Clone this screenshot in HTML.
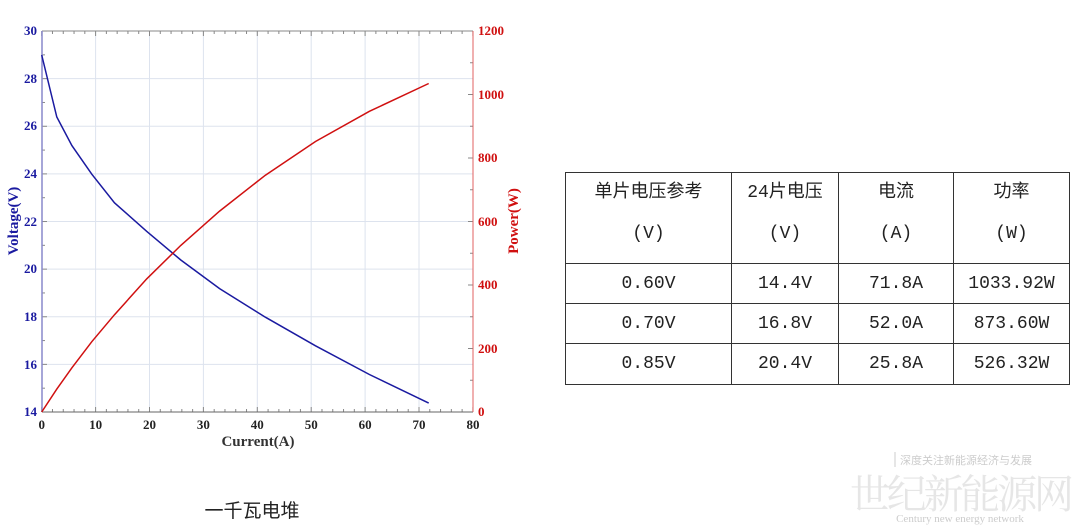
<!DOCTYPE html>
<html><head><meta charset="utf-8"><style>
body{margin:0;background:#fff;}
#w{position:relative;width:1080px;height:528px;overflow:hidden;background:#fff;font-family:"Liberation Sans","Noto Sans CJK SC",sans-serif;}
table{position:absolute;left:565px;top:172px;border-collapse:collapse;color:#222;font-family:"Liberation Mono","Noto Sans CJK SC",monospace;}
td{border:1.5px solid #333;text-align:center;font-size:18px;padding:0;}
tr.h td{vertical-align:top;line-height:41px;padding-top:0;}
</style></head><body><div id="w">
<svg width="1080" height="528" style="position:absolute;left:0;top:0" font-family="Liberation Serif,serif" font-weight="bold">
<g stroke="#dde3ee" stroke-width="1">
<line x1="95.6" y1="31" x2="95.6" y2="412"/><line x1="149.5" y1="31" x2="149.5" y2="412"/><line x1="203.4" y1="31" x2="203.4" y2="412"/><line x1="257.3" y1="31" x2="257.3" y2="412"/><line x1="311.2" y1="31" x2="311.2" y2="412"/><line x1="365.1" y1="31" x2="365.1" y2="412"/><line x1="419" y1="31" x2="419" y2="412"/>
<line x1="42" y1="78.6" x2="473" y2="78.6"/><line x1="42" y1="126.2" x2="473" y2="126.2"/><line x1="42" y1="173.9" x2="473" y2="173.9"/><line x1="42" y1="221.5" x2="473" y2="221.5"/><line x1="42" y1="269.1" x2="473" y2="269.1"/><line x1="42" y1="316.8" x2="473" y2="316.8"/><line x1="42" y1="364.4" x2="473" y2="364.4"/>
</g>
<g id="tk" stroke="#888" stroke-width="1"></g>
<line x1="42" y1="31" x2="473" y2="31" stroke="#888"/>
<line x1="42" y1="412" x2="473" y2="412" stroke="#666"/>
<line x1="42" y1="31" x2="42" y2="412" stroke="#8888cc" stroke-width="1.5"/>
<line x1="473" y1="31" x2="473" y2="412" stroke="#e06060" stroke-width="1"/>
<g fill="#1a1aa0" font-size="13" text-anchor="end">
<text x="37" y="35">30</text><text x="37" y="83">28</text><text x="37" y="130">26</text><text x="37" y="178">24</text><text x="37" y="226">22</text><text x="37" y="273">20</text><text x="37" y="321">18</text><text x="37" y="369">16</text><text x="37" y="416">14</text>
</g>
<g fill="#d01010" font-size="13">
<text x="478" y="35">1200</text><text x="478" y="99">1000</text><text x="478" y="162">800</text><text x="478" y="226">600</text><text x="478" y="289">400</text><text x="478" y="353">200</text><text x="478" y="416">0</text>
</g>
<g fill="#222" font-size="13" text-anchor="middle">
<text x="41.7" y="429">0</text><text x="95.6" y="429">10</text><text x="149.5" y="429">20</text><text x="203.4" y="429">30</text><text x="257.3" y="429">40</text><text x="311.2" y="429">50</text><text x="365.1" y="429">60</text><text x="419" y="429">70</text><text x="473" y="429">80</text>
</g>
<text x="258" y="446" fill="#333" font-size="15" text-anchor="middle">Current(A)</text>
<text transform="translate(18,221) rotate(-90)" fill="#1a1aa0" font-size="15" text-anchor="middle">Voltage(V)</text>
<text transform="translate(518,221) rotate(-90)" fill="#d01010" font-size="15" text-anchor="middle">Power(W)</text>
<polyline fill="none" stroke="#1a1aa0" stroke-width="1.5" points="41.7,55 56.8,117 71.9,145.6 91.8,174.2 114.5,202.8 146.8,231.4 180.8,260 219.6,288.6 265.4,317.2 315.5,345.8 369.4,374.5 428.7,403.1"/>
<polyline fill="none" stroke="#d01010" stroke-width="1.5" points="41.7,412 56.8,389.1 71.9,367.8 91.8,341.7 114.5,314.7 146.8,278.8 180.8,245.4 219.6,211.1 265.4,175.2 315.5,141.5 369.4,111.3 428.7,83.5"/>
<text x="252" y="517" font-family="Liberation Sans,Noto Sans CJK SC,sans-serif" font-weight="normal" font-size="19" fill="#222" text-anchor="middle">一千瓦电堆</text>
<text x="962" y="508" font-family="Noto Serif CJK SC,serif" font-weight="normal" font-size="40" fill="#e6e6e6" text-anchor="middle" textLength="224">世纪新能源网</text>
<text x="900" y="464" font-family="Noto Sans CJK SC,sans-serif" font-weight="normal" font-size="11" fill="#ccc">深度关注新能源经济与发展</text>
<line x1="895" y1="452" x2="895" y2="467" stroke="#ccc"/>
<text x="960" y="522" font-family="Liberation Serif,serif" font-weight="normal" font-size="11" fill="#ccc" text-anchor="middle">Century new energy network</text>
</svg>
<script>
var g=document.getElementById('tk'),s='';
for(var i=0;i<=40;i++){var x=41.7+i*10.78/2*1;x=41.7+i*5.39*2;if(x>473.5)break;var L=(i%5==0)?5:3;s+='<line x1="'+x+'" y1="412" x2="'+x+'" y2="'+(412-L)+'"/><line x1="'+x+'" y1="31" x2="'+x+'" y2="'+(31+L)+'"/>';}
for(var j=0;j<=16;j++){var y=412-j*23.81;var L=(j%2==0)?5:3;s+='<line x1="42" y1="'+y+'" x2="'+(42+L)+'" y2="'+y+'"/>';}
for(var k=0;k<=12;k++){var y=412-k*31.75;var L=(k%2==0)?5:3;s+='<line x1="473" y1="'+y+'" x2="'+(473-L)+'" y2="'+y+'"/>';}
g.innerHTML=s;
</script>
<table>
<tr class="h" style="height:91px"><td style="width:165px">单片电压参考<br>(V)</td><td style="width:106px">24片电压<br>(V)</td><td style="width:114px">电流<br>(A)</td><td style="width:115px">功率<br>(W)</td></tr>
<tr style="height:40px"><td>0.60V</td><td>14.4V</td><td>71.8A</td><td>1033.92W</td></tr>
<tr style="height:40px"><td>0.70V</td><td>16.8V</td><td>52.0A</td><td>873.60W</td></tr>
<tr style="height:41px"><td>0.85V</td><td>20.4V</td><td>25.8A</td><td>526.32W</td></tr>
</table>
</div></body></html>
